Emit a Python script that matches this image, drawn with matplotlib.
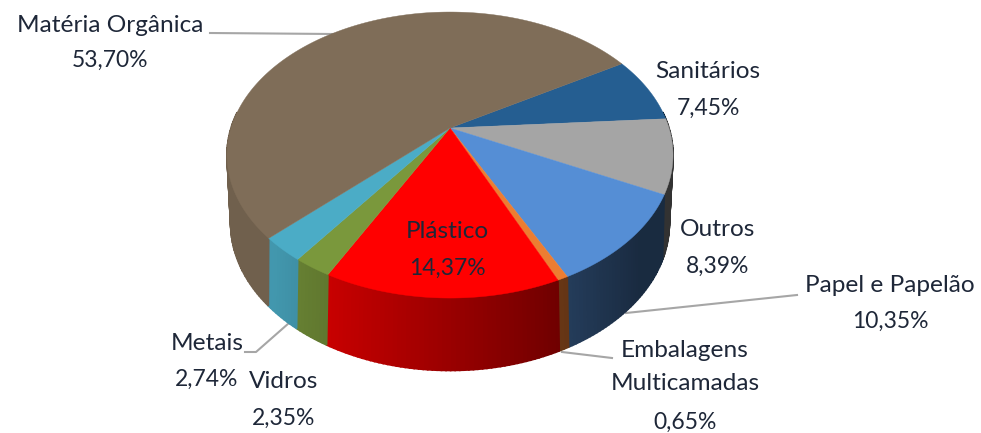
import numpy as np
import matplotlib
matplotlib.use("Agg")
import matplotlib.pyplot as plt

plt.rcParams["font.family"] = ["Lato", "DejaVu Sans"]

categories = ["Sanitários", "Outros", "Papel e Papelão", "Embalagens\nMulticamadas",
              "Plástico", "Vidros", "Metais", "Matéria Orgânica"]
values = [7.45, 8.39, 10.35, 0.65, 14.37, 2.35, 2.74, 53.70]
colors = ["#255E91", "#A5A5A5", "#558ED5", "#ED7D31",
          "#FF0000", "#7A983C", "#4BACC6", "#7F6D58"]

start_angle = 30.7
text_color = "#1E2738"


# circle in pie coordinates -> picture, with a bit of perspective
def top_face(theta):
    X, Y = np.cos(theta), np.sin(theta)
    w = 1 + 0.189 * Y
    return 450 + 219 * X / w, 128 - 137.9 * Y / w


def bottom_face(theta):
    X, Y = np.cos(theta), np.sin(theta)
    w = 1 + 0.22 * Y
    return 450 + 214 * X / w, 191 - 140 * Y / w


fig = plt.figure(figsize=(9.81, 4.33), dpi=100)
ax = fig.add_axes([0, 0, 1, 1])
ax.set_xlim(0, 981)
ax.set_ylim(433, 0)
ax.axis("off")

fractions = np.array(values) / np.sum(values)
ends = np.deg2rad(start_angle) - 2 * np.pi * np.cumsum(fractions)
starts = ends + 2 * np.pi * fractions

# side wall, only the front half shows. cut in strips for the shading
strips = []
for start, end, color in zip(starts, ends, colors):
    n = max(int((start - end) * 60), 2)
    t = np.linspace(start, end, n + 1)
    for t0, t1 in zip(t[:-1], t[1:]):
        if np.sin((t0 + t1) / 2) < 0.12:
            strips.append((t0, t1, color))
strips.sort(key=lambda s: -np.cos((s[0] + s[1]) / 2))
for t0, t1, color in strips:
    shade = np.clip(0.6 - 0.4 * np.cos((t0 + t1) / 2), 0.3, 0.88)
    rgb = np.array(matplotlib.colors.to_rgb(color)) * shade
    xt, yt = top_face(np.array([t0, t1]))
    xb, yb = bottom_face(np.array([t1, t0]))
    ax.fill(np.r_[xt, xb], np.r_[yt, yb], color=rgb, lw=1.2, zorder=2)

# top face
for start, end, color in zip(starts, ends, colors):
    t = np.linspace(start, end, 200)
    x, y = top_face(t)
    ax.fill(np.r_[450, x], np.r_[128, y], color=color, lw=0.3, zorder=3)

# leader lines
leader_lines = [
    ([210, 333], [33, 34]),
    ([626, 797], [313, 295]),
    ([562, 612], [352, 358]),
    ([245, 256, 289], [352, 352, 323]),
]
for xs, ys in leader_lines:
    ax.plot(xs, ys, color="#A6A6A6", lw=1.5, zorder=1)

name_pos = [(708, 72), (718, 230), (890, 285), (685, 367),
            (447, 232), (284, 382), (207, 343), (110, 25)]
value_pos = [(708, 108), (718, 266), (890, 321), (685, 422),
             (447, 268), (284, 418), (207, 379), (110, 60)]
for name, value, (x, y), (x2, y2) in zip(categories, values, name_pos, value_pos):
    ax.text(x, y, name, ha="center", va="center", fontsize=17.6,
            color=text_color, linespacing=1.75, zorder=5)
    ax.text(x2, y2, f"{value:.2f}".replace(".", ",") + "%", ha="center",
            va="center", fontsize=16.5, color=text_color, zorder=5)

fig.savefig("out.png", dpi=100)
